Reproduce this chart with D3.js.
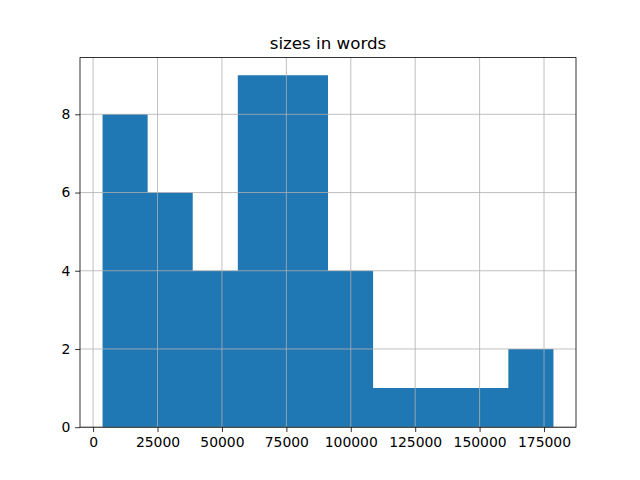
<!DOCTYPE html>
<html>
<head>
<meta charset="utf-8">
<script src="https://cdn.jsdelivr.net/npm/d3@7"></script>
<style>
  html, body { margin: 0; padding: 0; background: #fff; }
  svg { display: block; }
  text { font-family: "DejaVu Sans", sans-serif; fill: #000; }
</style>
</head>
<body>
<svg id="chart" width="640" height="480"></svg>
<script>
// Histogram of "sizes in words" (10 bins)
const binEdges = [3660, 21160, 38660, 56160, 73660, 91160, 108660, 126160, 143660, 161160, 178660];
const counts = [8, 6, 4, 9, 9, 4, 1, 1, 1, 2];
const xTicks = [0, 25000, 50000, 75000, 100000, 125000, 150000, 175000];
const yTicks = [0, 2, 4, 6, 8];
const title = "sizes in words";

const W = 640, H = 480;
const m = { left: 80, right: 576, top: 57.6, bottom: 427.2 };
const svg = d3.select("#chart");

const span = binEdges[binEdges.length - 1] - binEdges[0];
const x = d3.scaleLinear()
  .domain([binEdges[0] - span * 0.05, binEdges[binEdges.length - 1] + span * 0.05])
  .range([m.left, m.right]);
const yMax = d3.max(counts) * 1.05;
const y = d3.scaleLinear().domain([0, yMax]).range([m.bottom, m.top]);

const bins = counts.map((c, i) => ({ x0: binEdges[i], x1: binEdges[i + 1], c }));

// bars drawn as one step path (avoids anti-aliasing seams between adjacent bars)
const p = d3.path();
p.moveTo(x(bins[0].x0), y(0));
bins.forEach(d => {
  p.lineTo(x(d.x0), y(d.c));
  p.lineTo(x(d.x1), y(d.c));
});
p.lineTo(x(bins[bins.length - 1].x1), y(0));
p.closePath();
svg.append("path").attr("d", p.toString()).attr("fill", "#1f77b4");

// grid (on top of bars)
const grid = svg.append("g").attr("stroke", "#b0b0b0").attr("stroke-width", 0.8);
grid.selectAll(".gx").data(xTicks).join("line")
  .attr("x1", d => x(d)).attr("x2", d => x(d))
  .attr("y1", m.top).attr("y2", m.bottom);
grid.selectAll(".gy").data(yTicks).join("line")
  .attr("y1", d => y(d)).attr("y2", d => y(d))
  .attr("x1", m.left).attr("x2", m.right);

// axes
const tickLen = 4.86, pad = 4.86;
const xAxis = svg.append("g")
  .attr("transform", `translate(0,${m.bottom})`)
  .call(d3.axisBottom(x).tickValues(xTicks).tickFormat(d3.format("d"))
    .tickSize(tickLen).tickPadding(pad).tickSizeOuter(0));
const yAxis = svg.append("g")
  .attr("transform", `translate(${m.left},0)`)
  .call(d3.axisLeft(y).tickValues(yTicks).tickFormat(d3.format("d"))
    .tickSize(tickLen).tickPadding(pad).tickSizeOuter(0));
[xAxis, yAxis].forEach(a => {
  a.select(".domain").remove();
  a.selectAll(".tick line").attr("stroke", "#000").attr("stroke-width", 0.8);
  a.selectAll("text").attr("font-size", "13.9px").attr("font-family", "DejaVu Sans, sans-serif").attr("fill", "#000");
});

// spines
svg.append("rect")
  .attr("x", m.left).attr("y", m.top)
  .attr("width", m.right - m.left).attr("height", m.bottom - m.top)
  .attr("fill", "none").attr("stroke", "#000").attr("stroke-width", 0.8);

// title
svg.append("text")
  .attr("x", (m.left + m.right) / 2).attr("y", m.top - 8.3)
  .attr("text-anchor", "middle")
  .attr("font-size", "16.7px")
  .text(title);
</script>
</body>
</html>
